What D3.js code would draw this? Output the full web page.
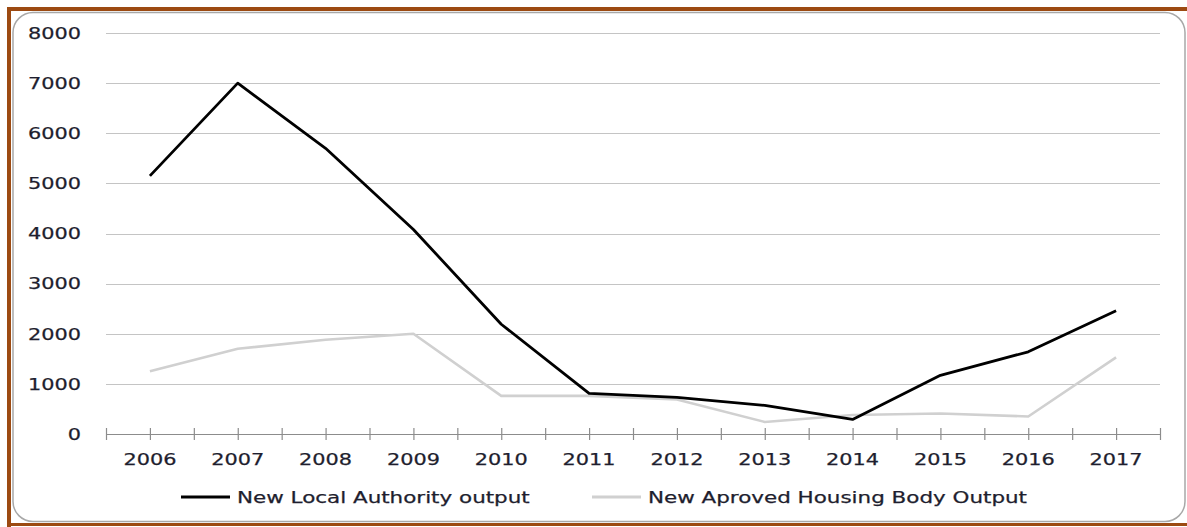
<!DOCTYPE html>
<html><head><meta charset="utf-8">
<script src="https://cdn.jsdelivr.net/npm/d3@7/dist/d3.min.js"></script>
<style>html,body{margin:0;padding:0;background:#fff;}svg{display:block;}</style>
</head><body>
<script>
const years = ["2006","2007","2008","2009","2010","2011","2012","2013","2014","2015","2016","2017"];
const localAuthority = [5150, 7000, 5700, 4080, 2190, 810, 730, 570, 290, 1170, 1640, 2460];
const approvedHousing = [1250, 1700, 1880, 2000, 760, 760, 690, 240, 380, 410, 350, 1530];
const yTicks = [0,1000,2000,3000,4000,5000,6000,7000,8000];
const seriesNames = ["New Local Authority output", "New Aproved Housing Body Output"];

const W = 1187, H = 527;
const svg = d3.select("body").append("svg").attr("width", W).attr("height", H);

// brown frame
svg.append("rect").attr("x", 0).attr("y", 0).attr("width", W).attr("height", H).attr("fill", "#fff");
svg.append("path").attr("d", `M9,${H} L9,9 L${W},9`).attr("fill","none").attr("stroke","#9c4a12").attr("stroke-width",4);
svg.append("line").attr("x1",9).attr("x2",W).attr("y1",524.5).attr("y2",524.5).attr("stroke","#9c4a12").attr("stroke-width",3);
// panel
svg.append("rect").attr("x", 13).attr("y", 12.5).attr("width", 1172).attr("height", 509)
  .attr("rx", 20).attr("ry", 20).attr("fill", "#fff").attr("stroke", "#a8a8a8").attr("stroke-width", 1.5);

const x = d3.scaleLinear().domain([0, years.length]).range([106, 1160]);
const y = d3.scaleLinear().domain([0, 8000]).range([434, 33]);
const font = "'DejaVu Sans', Verdana, sans-serif";
const txt = "#1e1e2e";

function stretch(sel, k) {
  sel.each(function() {
    const l = this.getComputedTextLength();
    d3.select(this).attr("textLength", l * k).attr("lengthAdjust", "spacingAndGlyphs");
  });
}
function styleText(sel) {
  sel.attr("font-family", font).attr("font-size", 16).attr("fill", txt)
    .attr("stroke", txt).attr("stroke-width", 0.25);
}

// gridlines
svg.append("g").selectAll("line").data(yTicks.filter(d => d > 0)).join("line")
  .attr("x1", 106).attr("x2", 1160).attr("y1", d => Math.round(y(d)) + 0.5).attr("y2", d => Math.round(y(d)) + 0.5)
  .attr("stroke", "#c4c4c4").attr("stroke-width", 1);

// y labels
const yl = svg.append("g").selectAll("text").data(yTicks).join("text")
  .attr("x", 81).attr("y", d => y(d)).attr("dy", "0.36em").attr("text-anchor", "end").text(d => d);
styleText(yl);
stretch(yl, 1.3);

// x axis
const xAxis = d3.axisBottom(x).tickValues(d3.range(0, years.length + 0.01, 0.5)).tickSize(6).tickFormat("");
const gx = svg.append("g").attr("transform", "translate(0,434)").call(xAxis);
gx.select(".domain").attr("stroke", "#8c8c8c").attr("stroke-width", 1.2).attr("d", "M106,0.5H1160");
gx.selectAll(".tick line").attr("stroke", "#8c8c8c").attr("y1", -6).attr("y2", 6).attr("stroke-width", 1.2);

const xl = svg.append("g").selectAll("text").data(years).join("text")
  .attr("x", (d, i) => x(i + 0.5)).attr("y", 459).attr("dy", "0.36em").attr("text-anchor", "middle").text(d => d);
styleText(xl);
stretch(xl, 1.3);

// lines
const line = d3.line().x((d, i) => x(i + 0.5)).y(d => y(d));
svg.append("path").datum(approvedHousing).attr("d", line).attr("fill", "none")
  .attr("stroke", "#d0d0d0").attr("stroke-width", 2.6).attr("stroke-linejoin", "round");
svg.append("path").datum(localAuthority).attr("d", line).attr("fill", "none")
  .attr("stroke", "#000").attr("stroke-width", 2.8).attr("stroke-linejoin", "round");

// legend
const legend = [
  {name: seriesNames[0], color: "#000", x0: 181},
  {name: seriesNames[1], color: "#d0d0d0", x0: 592}
];
legend.forEach(l => {
  svg.append("line").attr("x1", l.x0).attr("x2", l.x0 + 49).attr("y1", 497).attr("y2", 497)
    .attr("stroke", l.color).attr("stroke-width", 2.8);
  const t = svg.append("text").attr("x", l.x0 + 56).attr("y", 497).attr("dy", "0.36em").text(l.name);
  styleText(t);
  stretch(t, 1.34);
});
</script>
</body></html>
